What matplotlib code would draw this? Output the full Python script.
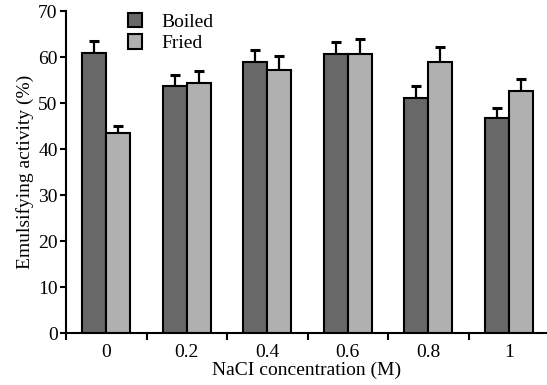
import numpy as np
import matplotlib.pyplot as plt

plt.rcParams['font.family'] = ['Liberation Serif', 'DejaVu Serif']

# Данные
concentrations = ['0', '0.2', '0.4', '0.6', '0.8', '1']
boiled = [60.9, 53.8, 58.9, 60.7, 51.1, 46.7]
boiled_err = [2.7, 2.3, 2.6, 2.7, 2.7, 2.3]
fried = [43.5, 54.5, 57.2, 60.7, 58.9, 52.7]
fried_err = [1.6, 2.6, 3.1, 3.3, 3.3, 2.6]

fig = plt.figure(figsize=(5.47, 3.85), dpi=100)
ax = fig.add_axes([66 / 547, 0.1343, 481 / 547, 0.8363])

x = np.arange(len(concentrations))
w = 0.3

ax.bar(x - w / 2, boiled, w, color='#686868', edgecolor='black', linewidth=1.5,
       label='Boiled', zorder=2)
ax.bar(x + w / 2, fried, w, color='#b0b0b0', edgecolor='black', linewidth=1.5,
       label='Fried', zorder=2)

# Только верхние усы погрешности
ax.errorbar(x - w / 2, boiled, yerr=[np.zeros(len(boiled)), boiled_err], fmt='none',
            ecolor='black', elinewidth=1.6, capsize=3.6, capthick=2.2, zorder=1)
ax.errorbar(x + w / 2, fried, yerr=[np.zeros(len(fried)), fried_err], fmt='none',
            ecolor='black', elinewidth=1.6, capsize=3.6, capthick=2.2, zorder=1)

ax.set_xlim(-0.5, 5.475)
ax.set_ylim(0, 70)
ax.set_yticks(np.arange(0, 71, 10))

# Подписи по центрам групп, засечки между группами
ax.set_xticks(x)
ax.set_xticklabels(concentrations)
ax.set_xticks(np.arange(-0.5, 5.0, 1.0), minor=True)
ax.tick_params(axis='x', which='major', length=0, pad=8, labelsize=14)
ax.tick_params(axis='x', which='minor', length=5, width=1.5, direction='out')
ax.tick_params(axis='y', length=4, width=1.5, direction='out', labelsize=14, pad=2)

for s in ['top', 'right']:
    ax.spines[s].set_visible(False)
for s in ['left', 'bottom']:
    ax.spines[s].set_linewidth(1.5)

ax.set_xlabel('NaCI concentration (M)', fontsize=14, labelpad=0)
ax.set_ylabel('Emulsifying activity (%)', fontsize=14, labelpad=3)

ax.legend(loc='upper left', bbox_to_anchor=(128 / 547, 1 - 13 / 385),
          bbox_transform=fig.transFigure, frameon=False, fontsize=14,
          handlelength=0.72, handleheight=0.77, handletextpad=1.0,
          labelspacing=0.16, borderpad=0, borderaxespad=0)

fig.savefig('out.png', dpi=100)
